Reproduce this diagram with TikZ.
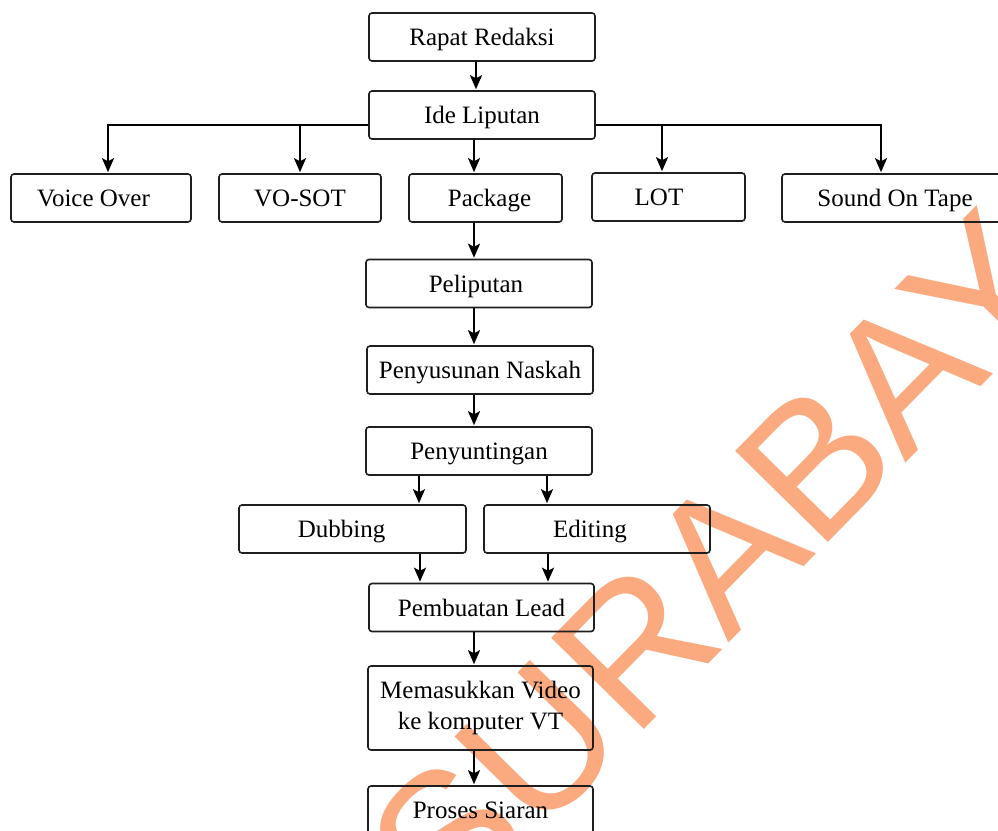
\documentclass[tikz,border=0pt]{standalone}
\usepackage{fontspec}
\setmainfont{Liberation Serif}
\newfontfamily\wmfont{Liberation Sans}
\usetikzlibrary{arrows.meta}
\definecolor{wmcol}{RGB}{251,169,127}
\definecolor{edgecol}{RGB}{30,30,30}
\begin{document}
\begin{tikzpicture}[x=1pt,y=-1pt,
  box/.style={draw=edgecol, line width=1.6pt, rounded corners=3pt, inner sep=0pt,
    minimum height=48pt, font=\fontsize{25}{31}\selectfont, text height=22pt, text depth=5pt},
  boxtwo/.style={draw=edgecol, line width=1.6pt, rounded corners=3pt, inner sep=0pt,
    align=center, font=\fontsize{25}{31}\selectfont},
  arr/.style={line width=2pt, -{Stealth[length=14pt,width=12pt,inset=3pt]}, shorten >=1pt},
  busline/.style={line width=2pt},
  wm/.style={text=wmcol, inner sep=0pt, anchor=base, rotate=45.5,
    font=\wmfont\fontsize{189}{189}\selectfont}
]
\useasboundingbox (0,0) rectangle (998,830);
\clip (0,0) rectangle (998,830);

% watermark
\node[wm] (wmark) at (800,571) {SURABAYA};

% boxes
\node[box, minimum width=226pt] (rapat) at (482,37) {Rapat Redaksi};
\node[box, minimum width=226pt] (ide) at (482,115) {Ide Liputan};
\node[box, minimum width=180pt] (vo) at (101,198) {\kern-15pt Voice Over};
\node[box, minimum width=162pt] (vosot) at (300,198) {VO-SOT};
\node[box, minimum width=153pt] (pkg) at (485.5,198) {\kern8pt Package};
\node[box, minimum width=153pt] (lot) at (668.5,197) {\kern-19pt LOT};
\node[box, minimum width=226pt] (sot) at (895,198) {Sound On Tape};
\node[box, minimum width=226pt] (peli) at (479,283.5) {\kern-6pt Peliputan};
\node[box, minimum width=226pt] (susun) at (480,370) {Penyusunan Naskah};
\node[box, minimum width=226pt] (sunting) at (479,451) {Penyuntingan};
\node[box, minimum width=227pt] (dub) at (352.5,529) {\kern-22pt Dubbing};
\node[box, minimum width=226pt] (edit) at (597,529) {\kern-14pt Editing};
\node[box, minimum width=225pt] (lead) at (481.5,607.5) {Pembuatan Lead};
\node[boxtwo, minimum width=225pt, minimum height=84pt] (masuk) at (480.5,708) {Memasukkan Video\\ke komputer VT};
\node[box, minimum width=225pt] (siaran) at (480.5,810) {Proses Siaran};

% helper coordinates
\coordinate (cx) at (474,0);
\coordinate (cxr) at (476,0);
\coordinate (bus) at (0,125);
\coordinate (bxa) at (108,0);
\coordinate (bxb) at (300,0);
\coordinate (bxc) at (662,0);
\coordinate (bxd) at (881,0);
\coordinate (dl) at (419,0);
\coordinate (dr) at (547,0);
\coordinate (ul) at (420,0);
\coordinate (ur) at (548,0);

% connectors
\draw[arr] (rapat.south -| cxr) -- (ide.north -| cxr);
\draw[arr] (ide.west |- bus) -| (vo.north -| bxa);
\draw[arr] (bus -| bxb) -- (vosot.north -| bxb);
\draw[arr] (ide.east |- bus) -| (sot.north -| bxd);
\draw[arr] (bus -| bxc) -- (lot.north -| bxc);
\draw[arr] (ide.south -| cx) -- (pkg.north -| cx);
\draw[arr] (pkg.south -| cx) -- (peli.north -| cx);
\draw[arr] (peli.south -| cx) -- (susun.north -| cx);
\draw[arr] (susun.south -| cx) -- (sunting.north -| cx);
\draw[arr] (sunting.south -| dl) -- (dub.north -| dl);
\draw[arr] (sunting.south -| dr) -- (edit.north -| dr);
\draw[arr] (dub.south -| ul) -- (lead.north -| ul);
\draw[arr] (edit.south -| ur) -- (lead.north -| ur);
\draw[arr] (lead.south -| cx) -- (masuk.north -| cx);
\draw[arr] (masuk.south -| cx) -- (siaran.north -| cx);
\end{tikzpicture}
\end{document}
